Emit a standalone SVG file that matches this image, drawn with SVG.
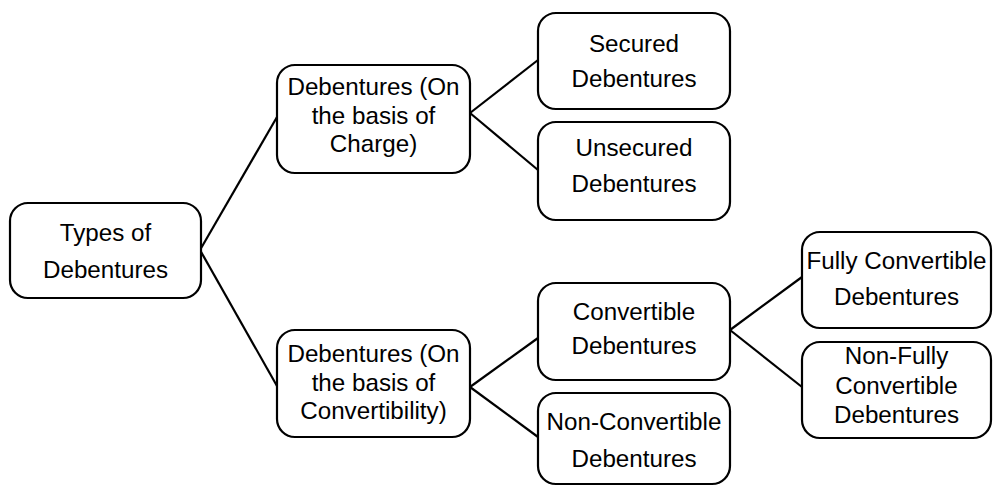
<svg xmlns="http://www.w3.org/2000/svg" width="993" height="486" viewBox="0 0 993 486">
<style>
.n rect{fill:#fff;stroke:#000;stroke-width:2.2}
.n text{font-family:"Liberation Sans",Arial,sans-serif;font-size:24.2px;fill:#000;text-anchor:middle}
.c line{stroke:#000;stroke-width:2.2}
</style>
<rect width="993" height="486" fill="#fff"/>
<g class="c" id="connectors">
<line x1="200" y1="250" x2="277" y2="117"/>
<line x1="200" y1="250" x2="277" y2="386"/>
<line x1="470" y1="113" x2="538" y2="60"/>
<line x1="470" y1="113" x2="538" y2="170"/>
<line x1="470" y1="387" x2="538" y2="338"/>
<line x1="470" y1="387" x2="538" y2="437"/>
<line x1="730" y1="330" x2="802" y2="277"/>
<line x1="730" y1="330" x2="802" y2="387"/>
</g>
<g class="n" id="root"><rect x="10" y="203" width="191" height="95" rx="18"/><text x="105.5" y="241">Types of</text><text x="105.5" y="278">Debentures</text></g>
<g class="n" id="charge"><rect x="277" y="65" width="193" height="108" rx="18"/><text x="373.5" y="95">Debentures (On</text><text x="373.5" y="124">the basis of</text><text x="373.5" y="152">Charge)</text></g>
<g class="n" id="convertibility"><rect x="277" y="330" width="193" height="107" rx="18"/><text x="373.5" y="362">Debentures (On</text><text x="373.5" y="391">the basis of</text><text x="373.5" y="419">Convertibility)</text></g>
<g class="n" id="secured"><rect x="538" y="13" width="192" height="96" rx="18"/><text x="634" y="52">Secured</text><text x="634" y="87">Debentures</text></g>
<g class="n" id="unsecured"><rect x="538" y="122" width="192" height="98" rx="18"/><text x="634" y="156">Unsecured</text><text x="634" y="192">Debentures</text></g>
<g class="n" id="convertible"><rect x="538" y="283" width="192" height="97" rx="18"/><text x="634" y="320">Convertible</text><text x="634" y="354">Debentures</text></g>
<g class="n" id="nonconvertible"><rect x="538" y="393" width="192" height="91" rx="18"/><text x="634" y="430">Non-Convertible</text><text x="634" y="467">Debentures</text></g>
<g class="n" id="fully"><rect x="802" y="232" width="189" height="96" rx="18"/><text x="896.5" y="269">Fully Convertible</text><text x="896.5" y="305">Debentures</text></g>
<g class="n" id="nonfully"><rect x="802" y="342" width="189" height="96" rx="18"/><text x="896.5" y="364">Non-Fully</text><text x="896.5" y="394">Convertible</text><text x="896.5" y="423">Debentures</text></g>
</svg>
